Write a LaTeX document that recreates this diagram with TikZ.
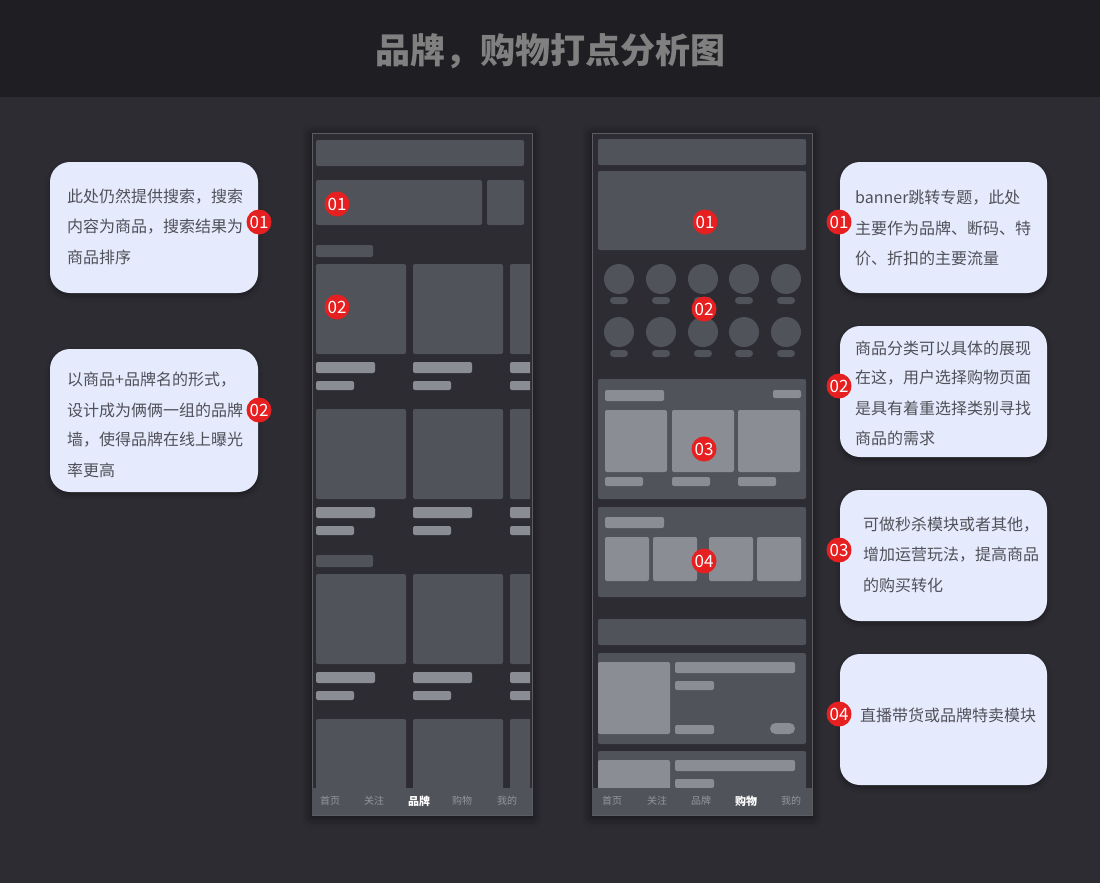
\documentclass[tikz,border=0pt]{standalone}
\usepackage{fontspec}
\newfontfamily\cjk{Noto Sans CJK SC}
\usepackage{tikz}
\usetikzlibrary{shadows.blur}
\definecolor{bgDark}{RGB}{45,44,51}
\definecolor{headDark}{RGB}{31,31,35}
\definecolor{titleGray}{RGB}{128,128,128}
\definecolor{noteFill}{RGB}{229,235,253}
\definecolor{noteText}{RGB}{80,80,88}
\definecolor{dotRed}{RGB}{230,32,32}
\definecolor{frameGray}{RGB}{92,92,98}
\definecolor{blockGray}{RGB}{80,83,90}
\definecolor{barGray}{RGB}{138,141,148}
\definecolor{tabGray}{RGB}{150,150,155}

\begin{document}
\begin{tikzpicture}[x=1pt, y=-1pt,
    note/.style={fill=noteFill, rounded corners=20pt,
      blur shadow={shadow xshift=0pt, shadow yshift=-3pt, shadow blur radius=5pt, shadow opacity=35}},
    notetext/.style={anchor=west, inner sep=0pt, text=noteText, font=\cjk\fontsize{16}{16}\selectfont},
    badge/.style={circle, fill=dotRed, text=white, minimum size=25pt, inner sep=0pt,
      font=\cjk\fontsize{17}{17}\selectfont},
    phone/.style={fill=bgDark, draw=frameGray, line width=0.8pt,
      blur shadow={shadow xshift=0pt, shadow yshift=-2pt, shadow blur radius=10pt, shadow opacity=65}},
    blk/.style={fill=blockGray, rounded corners=2pt},
    lbar/.style={fill=barGray, rounded corners=2pt},
    tab/.style={text=tabGray, inner sep=0pt, font=\cjk\fontsize{10}{10}\selectfont},
    tabon/.style={text=white, inner sep=0pt, font=\cjk\bfseries\fontsize{11}{11}\selectfont}]
  \useasboundingbox (0,0) rectangle (1100,883);
  % --- page background and header band ---
  \fill[bgDark] (0,0) rectangle (1100,883);
  \fill[headDark] (0,0) rectangle (1100,97);
  \node[text=titleGray, font=\cjk\bfseries\fontsize{35}{35}\selectfont] (title) at (550,51) {品牌，购物打点分析图};

  % --- left notes (brand page) ---
  \fill[note] (50,162) rectangle (258,293);
  \foreach \t [count=\i] in {此处仍然提供搜索，搜索, 内容为商品，搜索结果为, 商品排序}
    \node[notetext] (nl1-\i) at (67,167+30*\i) {\t};
  \node[badge] (bl1) at (259,222) {01};
  \fill[note] (50,349) rectangle (258,492);
  \foreach \t [count=\i] in {以商品+品牌名的形式，, 设计成为俩俩一组的品牌, 墙，使得品牌在线上曝光, 率更高}
    \node[notetext] (nl2-\i) at (67,350+30*\i) {\t};
  \node[badge] (bl2) at (259,410) {02};

  % --- phone 1: brand page ---
  \draw[phone] (312,133) rectangle (532,815);
  \begin{scope}
    \clip (313,134) rectangle (530,788);
    \fill[blk] (316,140) rectangle (524,166);
    \fill[blk] (316,180) rectangle (482,225);
    \fill[blk] (487,180) rectangle (524,225);
    \foreach \y in {245,555}
      \fill[blk] (316,\y) rectangle (373,\y+12);
    \foreach \y in {264,409,574,719}
      \foreach \x in {316,413,510} {
        \fill[blk] (\x,\y) rectangle (\x+90,\y+90);
        \fill[lbar] (\x,\y+98) rectangle (\x+59,\y+109);
        \fill[lbar] (\x,\y+117) rectangle (\x+38,\y+126);
      }
  \end{scope}
  \fill[blockGray] (312.4,788) rectangle (531.6,814.6);
  \foreach \x/\t/\s [count=\i] in {330/首页/tab, 374/关注/tab, 419/品牌/tabon, 462/购物/tab, 507/我的/tab}
    \node[\s] (ta-\i) at (\x,801) {\t};
  \node[badge] (pa1) at (337,204) {01};
  \node[badge] (pa2) at (337,307) {02};

  % --- phone 2: shopping page ---
  \draw[phone] (592,133) rectangle (812,815);
  \begin{scope}
    \clip (593,134) rectangle (811,788);
    \fill[blk] (598,139) rectangle (806,165);
    \fill[blk] (598,171) rectangle (806,250);
    % category icons
    \foreach \x in {619,661,703,744,786}
      \foreach \y in {279,332} {
        \fill[blockGray] (\x,\y) circle (15);
        \fill[blk, rounded corners=3.5pt] (\x-9,\y+18) rectangle (\x+9,\y+25);
      }
    % recommend card
    \fill[blk] (598,379) rectangle (806,499);
    \fill[lbar] (605,390) rectangle (664,401);
    \fill[lbar] (773,390) rectangle (801,398);
    \foreach \x in {605,672,738} {
      \fill[lbar] (\x,410) rectangle (\x+62,472);
      \fill[lbar] (\x,477) rectangle (\x+38,486);
    }
    % flash sale card
    \fill[blk] (598,507) rectangle (806,597);
    \fill[lbar] (605,517) rectangle (664,528);
    \foreach \x in {605,653,709,757}
      \fill[lbar] (\x,537) rectangle (\x+44,581);
    % live list
    \fill[blk] (598,619) rectangle (806,645);
    \foreach \y in {653,751} {
      \fill[blk] (598,\y) rectangle (806,\y+91);
      \fill[lbar] (598,\y+9) rectangle (670,\y+81);
      \fill[lbar] (675,\y+9) rectangle (795,\y+20);
      \fill[lbar] (675,\y+28) rectangle (714,\y+37);
      \fill[lbar] (675,\y+72) rectangle (714,\y+81);
      \fill[lbar, rounded corners=5.5pt] (770,\y+70) rectangle (795,\y+81);
    }
  \end{scope}
  \fill[blockGray] (592.4,788) rectangle (811.6,814.6);
  \foreach \x/\t/\s [count=\i] in {612/首页/tab, 657/关注/tab, 701/品牌/tab, 746/购物/tabon, 791/我的/tab}
    \node[\s] (tb-\i) at (\x,801) {\t};
  \node[badge] (pb1) at (705,222) {01};
  \node[badge] (pb2) at (704,309) {02};
  \node[badge] (pb3) at (704,449) {03};
  \node[badge] (pb4) at (704,561) {04};

  % --- right notes (shopping page) ---
  \fill[note] (840,162) rectangle (1047,293);
  \foreach \t [count=\i] in {banner跳转专题，此处, 主要作为品牌、断码、特, 价、折扣的主要流量}
    \node[notetext] (nr1-\i) at (855,168+30*\i) {\t};
  \node[badge] (br1) at (839,222) {01};
  \fill[note] (840,326) rectangle (1047,457);
  \foreach \t [count=\i] in {商品分类可以具体的展现, 在这，用户选择购物页面, 是具有着重选择类别寻找, 商品的需求}
    \node[notetext] (nr2-\i) at (855,318+30*\i) {\t};
  \node[badge] (br2) at (839,386) {02};
  \fill[note] (840,490) rectangle (1047,621);
  \foreach \t [count=\i] in {可做秒杀模块或者其他，, 增加运营玩法，提高商品, 的购买转化}
    \node[notetext] (nr3-\i) at (863,495+30*\i) {\t};
  \node[badge] (br3) at (839,550) {03};
  \fill[note] (840,654) rectangle (1047,785);
  \node[notetext] (nr4-1) at (860,715) {直播带货或品牌特卖模块};
  \node[badge] (br4) at (839,714) {04};
\end{tikzpicture}
\end{document}
